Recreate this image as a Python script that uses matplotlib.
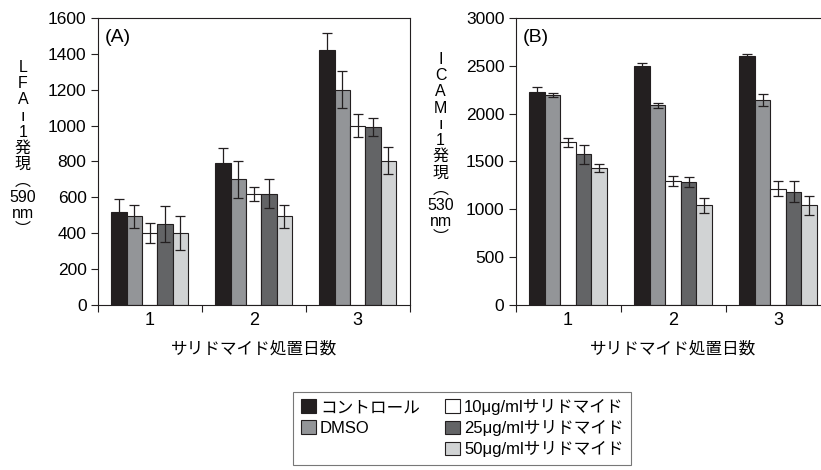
import matplotlib
matplotlib.use("Agg")
import matplotlib.pyplot as plt
import numpy as np
from matplotlib.patches import Rectangle

plt.rcParams['font.family'] = ['Liberation Sans', 'Noto Sans CJK JP', 'DejaVu Sans']

days = ["1", "2", "3"]
groups = ["コントロール", "DMSO", "10μg/mlサリドマイド", "25μg/mlサリドマイド", "50μg/mlサリドマイド"]
colors = ["#231f20", "#939598", "#ffffff", "#636466", "#d1d3d4"]

# LFA-1 (A): rows = groups, cols = days
lfa_mean = [[520, 790, 1420],
            [495, 700, 1200],
            [400, 620, 1000],
            [450, 620, 990],
            [400, 495, 805]]
lfa_err = [[70, 85, 95],
           [65, 105, 105],
           [55, 40, 65],
           [100, 80, 50],
           [95, 65, 75]]

# ICAM-1 (B)
icam_mean = [[2230, 2500, 2600],
             [2195, 2085, 2140],
             [1700, 1295, 1215],
             [1575, 1285, 1185],
             [1430, 1040, 1040]]
icam_err = [[45, 25, 20],
            [20, 25, 65],
            [50, 50, 80],
            [100, 55, 110],
            [45, 75, 100]]

fig = plt.figure(figsize=(8.21, 4.70), dpi=100)
axA = fig.add_axes([0.119, 0.351, 0.380, 0.611])
axB = fig.add_axes([0.628, 0.351, 0.3837, 0.611])

def draw_panel(ax, means, errs, ymax, ystep, tag, ylab):
    x = np.arange(1, len(days) + 1)
    w = 0.148
    for i in range(len(groups)):
        off = (i - 2) * w
        ax.bar(x + off, means[i], width=w, color=colors[i], edgecolor="#231f20",
               linewidth=0.8, label=groups[i], zorder=2)
        ax.errorbar(x + off, means[i], yerr=errs[i], fmt="none", ecolor="#231f20",
                    elinewidth=0.9, capsize=3.5, capthick=0.9, zorder=3)
    ax.set_xlim(0.5, 3.5)
    ax.set_ylim(0, ymax)
    ax.set_yticks(np.arange(0, ymax + 1, ystep))
    ax.set_xticks([0.5, 1.5, 2.5, 3.5])
    ax.set_xticklabels([])
    ax.set_xticks(x, minor=True)
    ax.set_xticklabels(days, minor=True)
    ax.tick_params(axis="x", which="major", direction="out", length=5, width=0.8, color="#231f20")
    ax.tick_params(axis="x", which="minor", length=0, pad=5, labelsize=13)
    ax.tick_params(axis="y", direction="out", length=5, width=0.8, labelsize=12.5,
                   color="#231f20", pad=3)
    for s in ax.spines.values():
        s.set_color("#231f20")
        s.set_linewidth(0.8)
    ax.text(0.022, 0.96, tag, transform=ax.transAxes, fontsize=14, va="top", ha="left")
    ax.set_xlabel("サリドマイド処置日数", fontsize=12, labelpad=9)
    ax.set_ylabel(ylab, rotation=0, fontsize=11.5, linespacing=1.1, va="center", ha="center")
    ax.yaxis.set_label_coords(-0.24, 0.545)

draw_panel(axA, lfa_mean, lfa_err, 1600, 200, "(A)",
           "L\nF\nA\nı\n1\n発\n現\n︵\n590\nnm\n︶")
draw_panel(axB, icam_mean, icam_err, 3000, 500, "(B)",
           "I\nC\nA\nM\nı\n1\n発\n現\n︵\n530\nnm\n︶")
axB.yaxis.set_label_coords(-0.238, 0.545)

handles, labels = axA.get_legend_handles_labels()
blank = Rectangle((0, 0), 1, 1, fill=False, edgecolor="none", linewidth=0)
h = [handles[0], handles[1], blank, handles[2], handles[3], handles[4]]
l = [labels[0], labels[1], "", labels[2], labels[3], labels[4]]
leg = fig.legend(h, l, ncol=2, loc="center", bbox_to_anchor=(0.563, 0.089),
                 fontsize=12, frameon=True, fancybox=False, handlelength=0.9,
                 handleheight=0.9, handletextpad=0.25, columnspacing=1.5,
                 labelspacing=0.3, borderpad=0.45, borderaxespad=0)
leg.get_frame().set_edgecolor("#555555")
leg.get_frame().set_linewidth(0.8)

fig.savefig("out.png", dpi=100)
